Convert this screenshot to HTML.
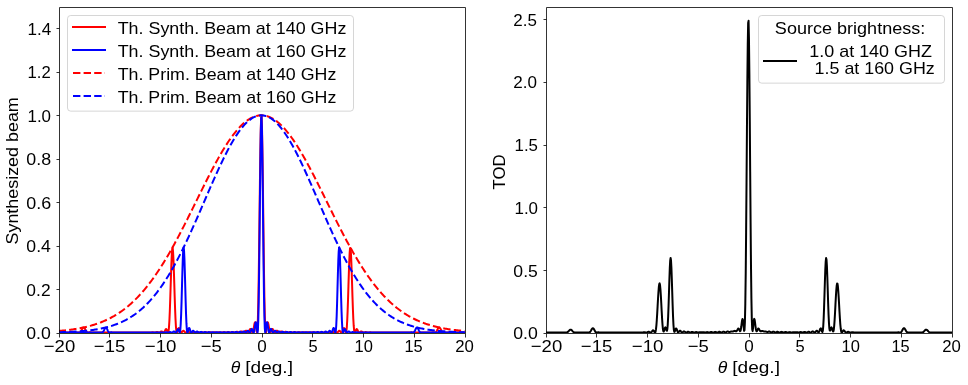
<!DOCTYPE html>
<html lang="en"><head><meta charset="utf-8"><title>Synthesized beam and TOD</title>
<style>
html,body{margin:0;padding:0;background:#fff;}
body{width:968px;height:385px;overflow:hidden;}
svg{display:block;will-change:transform;}
svg text{font-family:"Liberation Sans",sans-serif;fill:#000;}
</style></head><body>
<svg width="968" height="385" viewBox="0 0 968 385">
<rect width="968" height="385" fill="#fff"/>
<defs>
<clipPath id="c0"><rect x="59" y="7" width="406" height="326"/></clipPath>
<clipPath id="c1"><rect x="546" y="7" width="406" height="326"/></clipPath>
</defs>
<g clip-path="url(#c0)" fill="none" stroke-width="2" stroke-linejoin="round">
<path d="M58.56,332.59 L58.96,332.59 L59.37,332.59 L59.78,332.59 L60.18,332.60 L60.59,332.60 L60.99,332.60 L61.40,332.60 L61.81,332.60 L62.21,332.60 L62.62,332.59 L63.02,332.59 L63.43,332.59 L63.84,332.59 L64.24,332.59 L64.65,332.59 L65.05,332.60 L65.46,332.60 L65.87,332.60 L66.27,332.60 L66.68,332.59 L67.08,332.59 L67.49,332.58 L67.90,332.58 L68.30,332.58 L68.71,332.58 L69.11,332.59 L69.52,332.59 L69.93,332.60 L70.33,332.60 L70.74,332.59 L71.14,332.58 L71.55,332.57 L71.96,332.55 L72.36,332.55 L72.77,332.55 L73.17,332.55 L73.58,332.57 L73.99,332.59 L74.39,332.60 L74.80,332.60 L75.20,332.58 L75.61,332.55 L76.02,332.50 L76.42,332.46 L76.83,332.42 L77.23,332.41 L77.64,332.43 L78.05,332.48 L78.45,332.55 L78.86,332.59 L79.26,332.59 L79.67,332.49 L80.08,332.26 L80.48,331.88 L80.89,331.34 L81.29,330.67 L81.70,329.91 L82.11,329.14 L82.51,328.44 L82.92,327.88 L83.32,327.55 L83.73,327.49 L84.14,327.70 L84.54,328.16 L84.95,328.83 L85.35,329.60 L85.76,330.40 L86.17,331.15 L86.57,331.76 L86.98,332.21 L87.38,332.48 L87.79,332.59 L88.20,332.58 L88.60,332.50 L89.01,332.40 L89.41,332.32 L89.82,332.28 L90.23,332.30 L90.63,332.35 L91.04,332.43 L91.44,332.51 L91.85,332.57 L92.26,332.60 L92.66,332.59 L93.07,332.56 L93.47,332.52 L93.88,332.49 L94.29,332.46 L94.69,332.46 L95.10,332.49 L95.50,332.52 L95.91,332.56 L96.32,332.59 L96.72,332.60 L97.13,332.60 L97.53,332.58 L97.94,332.55 L98.35,332.53 L98.75,332.51 L99.16,332.51 L99.56,332.53 L99.97,332.55 L100.38,332.57 L100.78,332.59 L101.19,332.60 L101.59,332.60 L102.00,332.58 L102.41,332.56 L102.81,332.55 L103.22,332.53 L103.62,332.53 L104.03,332.54 L104.44,332.56 L104.84,332.58 L105.25,332.59 L105.65,332.60 L106.06,332.60 L106.47,332.59 L106.87,332.57 L107.28,332.55 L107.68,332.54 L108.09,332.54 L108.50,332.55 L108.90,332.57 L109.31,332.58 L109.71,332.59 L110.12,332.60 L110.53,332.60 L110.93,332.59 L111.34,332.57 L111.74,332.56 L112.15,332.55 L112.56,332.55 L112.96,332.55 L113.37,332.57 L113.77,332.58 L114.18,332.59 L114.59,332.60 L114.99,332.60 L115.40,332.59 L115.80,332.57 L116.21,332.56 L116.62,332.55 L117.02,332.55 L117.43,332.55 L117.83,332.57 L118.24,332.58 L118.65,332.60 L119.05,332.60 L119.46,332.60 L119.86,332.58 L120.27,332.57 L120.68,332.55 L121.08,332.55 L121.49,332.54 L121.89,332.55 L122.30,332.57 L122.71,332.58 L123.11,332.60 L123.52,332.60 L123.92,332.60 L124.33,332.58 L124.74,332.57 L125.14,332.55 L125.55,332.54 L125.95,332.54 L126.36,332.55 L126.77,332.56 L127.17,332.58 L127.58,332.60 L127.98,332.60 L128.39,332.59 L128.80,332.58 L129.20,332.56 L129.61,332.54 L130.01,332.53 L130.42,332.53 L130.83,332.54 L131.23,332.56 L131.64,332.58 L132.04,332.59 L132.45,332.60 L132.86,332.59 L133.26,332.57 L133.67,332.55 L134.07,332.53 L134.48,332.52 L134.89,332.52 L135.29,332.53 L135.70,332.55 L136.10,332.58 L136.51,332.59 L136.92,332.60 L137.32,332.59 L137.73,332.57 L138.13,332.54 L138.54,332.51 L138.95,332.49 L139.35,332.49 L139.76,332.51 L140.16,332.54 L140.57,332.57 L140.98,332.59 L141.38,332.60 L141.79,332.59 L142.19,332.56 L142.60,332.52 L143.01,332.48 L143.41,332.46 L143.82,332.46 L144.22,332.48 L144.63,332.52 L145.04,332.56 L145.44,332.59 L145.85,332.60 L146.25,332.58 L146.66,332.54 L147.07,332.48 L147.47,332.43 L147.88,332.40 L148.28,332.40 L148.69,332.43 L149.10,332.49 L149.50,332.55 L149.91,332.59 L150.31,332.60 L150.72,332.57 L151.13,332.50 L151.53,332.41 L151.94,332.34 L152.34,332.29 L152.75,332.29 L153.16,332.34 L153.56,332.43 L153.97,332.52 L154.37,332.58 L154.78,332.60 L155.19,332.54 L155.59,332.43 L156.00,332.28 L156.40,332.14 L156.81,332.06 L157.22,332.06 L157.62,332.15 L158.03,332.29 L158.43,332.46 L158.84,332.57 L159.25,332.59 L159.65,332.48 L160.06,332.25 L160.46,331.95 L160.87,331.67 L161.28,331.48 L161.68,331.46 L162.09,331.63 L162.49,331.94 L162.90,332.29 L163.31,332.55 L163.71,332.58 L164.12,332.28 L164.52,331.66 L164.93,330.81 L165.34,329.93 L165.74,329.26 L166.15,329.05 L166.55,329.42 L166.96,330.32 L167.37,331.48 L167.77,332.42 L168.18,332.46 L168.58,330.89 L168.99,327.07 L169.40,320.60 L169.80,311.46 L170.21,300.08 L170.61,287.33 L171.02,274.41 L171.43,262.76 L171.83,253.74 L172.24,248.50 L172.64,247.72 L173.05,251.52 L173.46,259.44 L173.86,270.50 L174.27,283.35 L174.67,296.54 L175.08,308.69 L175.49,318.73 L175.89,326.05 L176.30,330.51 L176.70,332.42 L177.11,332.40 L177.52,331.25 L177.92,329.76 L178.33,328.54 L178.73,327.97 L179.14,328.16 L179.55,328.97 L179.95,330.11 L180.36,331.26 L180.76,332.13 L181.17,332.56 L181.58,332.53 L181.98,332.15 L182.39,331.61 L182.79,331.10 L183.20,330.81 L183.61,330.80 L184.01,331.07 L184.42,331.51 L184.82,332.00 L185.23,332.39 L185.64,332.58 L186.04,332.56 L186.45,332.35 L186.85,332.05 L187.26,331.76 L187.67,331.58 L188.07,331.56 L188.48,331.70 L188.88,331.95 L189.29,332.24 L189.70,332.47 L190.10,332.59 L190.51,332.57 L190.91,332.43 L191.32,332.22 L191.73,332.02 L192.13,331.89 L192.54,331.87 L192.94,331.97 L193.35,332.15 L193.76,332.35 L194.16,332.51 L194.57,332.60 L194.97,332.57 L195.38,332.46 L195.79,332.30 L196.19,332.15 L196.60,332.05 L197.00,332.03 L197.41,332.11 L197.82,332.25 L198.22,332.41 L198.63,332.54 L199.03,332.60 L199.44,332.58 L199.85,332.48 L200.25,332.34 L200.66,332.21 L201.06,332.13 L201.47,332.12 L201.88,332.18 L202.28,332.30 L202.69,332.44 L203.09,332.55 L203.50,332.60 L203.91,332.58 L204.31,332.49 L204.72,332.37 L205.12,332.25 L205.53,332.17 L205.94,332.16 L206.34,332.22 L206.75,332.33 L207.15,332.46 L207.56,332.55 L207.97,332.60 L208.37,332.58 L208.78,332.49 L209.18,332.37 L209.59,332.26 L210.00,332.19 L210.40,332.18 L210.81,332.24 L211.21,332.35 L211.62,332.46 L212.03,332.56 L212.43,332.60 L212.84,332.57 L213.24,332.49 L213.65,332.37 L214.06,332.26 L214.46,332.19 L214.87,332.18 L215.27,332.24 L215.68,332.35 L216.09,332.47 L216.49,332.56 L216.90,332.60 L217.30,332.57 L217.71,332.48 L218.12,332.36 L218.52,332.24 L218.93,332.17 L219.33,332.16 L219.74,332.23 L220.15,332.34 L220.55,332.46 L220.96,332.56 L221.36,332.60 L221.77,332.56 L222.18,332.46 L222.58,332.33 L222.99,332.20 L223.39,332.13 L223.80,332.12 L224.21,332.19 L224.61,332.32 L225.02,332.46 L225.42,332.56 L225.83,332.60 L226.24,332.56 L226.64,332.44 L227.05,332.29 L227.45,332.14 L227.86,332.05 L228.27,332.05 L228.67,332.13 L229.08,332.28 L229.48,332.44 L229.89,332.56 L230.30,332.60 L230.70,332.54 L231.11,332.40 L231.51,332.22 L231.92,332.04 L232.33,331.94 L232.73,331.94 L233.14,332.04 L233.54,332.21 L233.95,332.41 L234.36,332.55 L234.76,332.60 L235.17,332.52 L235.57,332.34 L235.98,332.10 L236.39,331.88 L236.79,331.74 L237.20,331.74 L237.60,331.87 L238.01,332.10 L238.42,332.36 L238.82,332.54 L239.23,332.60 L239.63,332.49 L240.04,332.23 L240.45,331.89 L240.85,331.58 L241.26,331.39 L241.66,331.39 L242.07,331.58 L242.48,331.90 L242.88,332.26 L243.29,332.53 L243.69,332.59 L244.10,332.41 L244.51,332.01 L244.91,331.50 L245.32,331.01 L245.72,330.70 L246.13,330.68 L246.54,330.97 L246.94,331.49 L247.35,332.06 L247.75,332.49 L248.16,332.59 L248.57,332.25 L248.97,331.52 L249.38,330.56 L249.78,329.63 L250.19,329.01 L250.60,328.93 L251.00,329.43 L251.41,330.41 L251.81,331.54 L252.22,332.39 L252.63,332.56 L253.03,331.75 L253.44,329.96 L253.84,327.48 L254.25,324.89 L254.66,322.91 L255.06,322.23 L255.47,323.22 L255.87,325.76 L256.28,329.12 L256.69,331.92 L257.09,332.36 L257.50,328.50 L257.90,318.66 L258.31,301.83 L258.72,278.05 L259.12,248.49 L259.53,215.54 L259.93,182.42 L260.34,152.80 L260.75,130.22 L261.15,117.50 L261.56,116.26 L261.96,126.66 L262.37,147.37 L262.78,175.78 L263.18,208.48 L263.59,241.76 L263.99,272.25 L264.40,297.39 L264.81,315.72 L265.21,326.98 L265.62,331.97 L266.02,332.28 L266.43,329.81 L266.84,326.44 L267.24,323.64 L267.65,322.29 L268.05,322.64 L268.46,324.40 L268.87,326.92 L269.27,329.48 L269.68,331.45 L270.08,332.47 L270.49,332.50 L270.90,331.75 L271.30,330.64 L271.71,329.61 L272.11,328.98 L272.52,328.95 L272.93,329.47 L273.33,330.36 L273.74,331.33 L274.14,332.13 L274.55,332.55 L274.96,332.54 L275.36,332.17 L275.77,331.61 L276.17,331.07 L276.58,330.72 L276.99,330.67 L277.39,330.92 L277.80,331.39 L278.20,331.91 L278.61,332.35 L279.02,332.58 L279.42,332.56 L279.83,332.33 L280.23,331.98 L280.64,331.64 L281.05,331.41 L281.45,331.38 L281.86,331.53 L282.26,331.82 L282.67,332.16 L283.08,332.44 L283.48,332.59 L283.89,332.57 L284.29,332.40 L284.70,332.16 L285.11,331.92 L285.51,331.76 L285.92,331.73 L286.32,331.84 L286.73,332.05 L287.14,332.29 L287.54,332.49 L287.95,332.59 L288.35,332.57 L288.76,332.44 L289.17,332.26 L289.57,332.07 L289.98,331.95 L290.38,331.93 L290.79,332.01 L291.20,332.18 L291.60,332.36 L292.01,332.52 L292.41,332.60 L292.82,332.58 L293.23,332.47 L293.63,332.31 L294.04,332.16 L294.44,332.06 L294.85,332.05 L295.26,332.12 L295.66,332.25 L296.07,332.41 L296.47,332.54 L296.88,332.60 L297.29,332.58 L297.69,332.48 L298.10,332.35 L298.50,332.22 L298.91,332.13 L299.32,332.12 L299.72,332.18 L300.13,332.30 L300.53,332.44 L300.94,332.55 L301.35,332.60 L301.75,332.58 L302.16,332.49 L302.56,332.37 L302.97,332.25 L303.38,332.17 L303.78,332.16 L304.19,332.22 L304.59,332.33 L305.00,332.45 L305.41,332.55 L305.81,332.60 L306.22,332.58 L306.62,332.49 L307.03,332.37 L307.44,332.26 L307.84,332.19 L308.25,332.18 L308.65,332.24 L309.06,332.35 L309.47,332.46 L309.87,332.56 L310.28,332.60 L310.68,332.57 L311.09,332.49 L311.50,332.37 L311.90,332.26 L312.31,332.19 L312.71,332.18 L313.12,332.24 L313.53,332.35 L313.93,332.47 L314.34,332.56 L314.74,332.60 L315.15,332.57 L315.56,332.48 L315.96,332.36 L316.37,332.24 L316.77,332.17 L317.18,332.17 L317.59,332.23 L317.99,332.34 L318.40,332.46 L318.80,332.56 L319.21,332.60 L319.62,332.56 L320.02,332.46 L320.43,332.33 L320.83,332.20 L321.24,332.12 L321.65,332.12 L322.05,332.19 L322.46,332.32 L322.86,332.45 L323.27,332.56 L323.68,332.60 L324.08,332.55 L324.49,332.44 L324.89,332.28 L325.30,332.13 L325.71,332.04 L326.11,332.03 L326.52,332.12 L326.92,332.27 L327.33,332.43 L327.74,332.56 L328.14,332.60 L328.55,332.54 L328.95,332.39 L329.36,332.19 L329.77,332.00 L330.17,331.88 L330.58,331.88 L330.98,331.98 L331.39,332.17 L331.80,332.39 L332.20,332.55 L332.61,332.60 L333.01,332.51 L333.42,332.30 L333.83,332.02 L334.23,331.75 L334.64,331.57 L335.04,331.56 L335.45,331.71 L335.86,331.98 L336.26,332.29 L336.67,332.53 L337.07,332.60 L337.48,332.45 L337.89,332.09 L338.29,331.62 L338.70,331.15 L339.10,330.84 L339.51,330.78 L339.92,331.02 L340.32,331.49 L340.73,332.04 L341.13,332.47 L341.54,332.59 L341.95,332.26 L342.35,331.47 L342.76,330.36 L343.16,329.19 L343.57,328.29 L343.98,327.95 L344.38,328.36 L344.79,329.46 L345.19,330.94 L345.60,332.22 L346.01,332.55 L346.41,331.11 L346.82,327.22 L347.22,320.51 L347.63,311.00 L348.04,299.22 L348.44,286.15 L348.85,273.10 L349.25,261.55 L349.66,252.87 L350.07,248.14 L350.47,247.95 L350.88,252.30 L351.28,260.60 L351.69,271.81 L352.10,284.58 L352.50,297.48 L352.91,309.24 L353.31,318.89 L353.72,325.94 L354.13,330.29 L354.53,332.29 L354.94,332.53 L355.34,331.72 L355.75,330.55 L356.16,329.57 L356.56,329.08 L356.97,329.17 L357.37,329.76 L357.78,330.62 L358.19,331.49 L358.59,332.17 L359.00,332.54 L359.40,332.58 L359.81,332.36 L360.22,332.01 L360.62,331.68 L361.03,331.48 L361.43,331.46 L361.84,331.62 L362.25,331.89 L362.65,332.19 L363.06,332.44 L363.46,332.58 L363.87,332.59 L364.28,332.49 L364.68,332.33 L365.09,332.17 L365.49,332.07 L365.90,332.05 L366.31,332.12 L366.71,332.25 L367.12,332.40 L367.52,332.52 L367.93,332.59 L368.34,332.59 L368.74,332.54 L369.15,332.45 L369.55,332.36 L369.96,332.30 L370.37,332.28 L370.77,332.32 L371.18,332.40 L371.58,332.48 L371.99,332.56 L372.40,332.60 L372.80,332.59 L373.21,332.56 L373.61,332.50 L374.02,332.44 L374.43,332.40 L374.83,332.40 L375.24,332.42 L375.64,332.47 L376.05,332.52 L376.46,332.57 L376.86,332.60 L377.27,332.60 L377.67,332.57 L378.08,332.53 L378.49,332.49 L378.89,332.46 L379.30,332.46 L379.70,332.47 L380.11,332.51 L380.52,332.55 L380.92,332.58 L381.33,332.60 L381.73,332.60 L382.14,332.58 L382.55,332.55 L382.95,332.52 L383.36,332.50 L383.76,332.49 L384.17,332.51 L384.58,332.53 L384.98,332.56 L385.39,332.59 L385.79,332.60 L386.20,332.60 L386.61,332.58 L387.01,332.56 L387.42,332.53 L387.82,332.52 L388.23,332.51 L388.64,332.53 L389.04,332.55 L389.45,332.57 L389.85,332.59 L390.26,332.60 L390.67,332.60 L391.07,332.58 L391.48,332.56 L391.88,332.54 L392.29,332.53 L392.70,332.53 L393.10,332.54 L393.51,332.56 L393.91,332.58 L394.32,332.59 L394.73,332.60 L395.13,332.60 L395.54,332.58 L395.94,332.57 L396.35,332.55 L396.76,332.54 L397.16,332.54 L397.57,332.55 L397.97,332.56 L398.38,332.58 L398.79,332.59 L399.19,332.60 L399.60,332.60 L400.00,332.59 L400.41,332.57 L400.82,332.56 L401.22,332.55 L401.63,332.54 L402.03,332.55 L402.44,332.57 L402.85,332.58 L403.25,332.59 L403.66,332.60 L404.06,332.60 L404.47,332.59 L404.88,332.57 L405.28,332.56 L405.69,332.55 L406.09,332.55 L406.50,332.55 L406.91,332.57 L407.31,332.58 L407.72,332.59 L408.12,332.60 L408.53,332.60 L408.94,332.59 L409.34,332.57 L409.75,332.56 L410.15,332.55 L410.56,332.55 L410.97,332.55 L411.37,332.57 L411.78,332.58 L412.18,332.60 L412.59,332.60 L413.00,332.60 L413.40,332.58 L413.81,332.57 L414.21,332.55 L414.62,332.54 L415.03,332.54 L415.43,332.55 L415.84,332.57 L416.24,332.58 L416.65,332.59 L417.06,332.60 L417.46,332.60 L417.87,332.58 L418.27,332.56 L418.68,332.55 L419.09,332.53 L419.49,332.53 L419.90,332.54 L420.30,332.56 L420.71,332.58 L421.12,332.59 L421.52,332.60 L421.93,332.59 L422.33,332.58 L422.74,332.55 L423.15,332.53 L423.55,332.51 L423.96,332.51 L424.36,332.52 L424.77,332.55 L425.18,332.57 L425.58,332.59 L425.99,332.60 L426.39,332.59 L426.80,332.56 L427.21,332.53 L427.61,332.49 L428.02,332.47 L428.42,332.46 L428.83,332.48 L429.24,332.51 L429.64,332.56 L430.05,332.59 L430.45,332.60 L430.86,332.58 L431.27,332.53 L431.67,332.45 L432.08,332.37 L432.48,332.31 L432.89,332.28 L433.30,332.31 L433.70,332.38 L434.11,332.48 L434.51,332.57 L434.92,332.60 L435.33,332.52 L435.73,332.28 L436.14,331.87 L436.54,331.29 L436.95,330.57 L437.36,329.77 L437.76,328.98 L438.17,328.29 L438.57,327.78 L438.98,327.51 L439.39,327.52 L439.79,327.79 L440.20,328.30 L440.60,328.98 L441.01,329.75 L441.42,330.52 L441.82,331.21 L442.23,331.78 L442.63,332.20 L443.04,332.46 L443.45,332.58 L443.85,332.60 L444.26,332.56 L444.66,332.50 L445.07,332.44 L445.48,332.42 L445.88,332.42 L446.29,332.45 L446.69,332.49 L447.10,332.54 L447.51,332.58 L447.91,332.60 L448.32,332.60 L448.72,332.59 L449.13,332.57 L449.54,332.56 L449.94,332.55 L450.35,332.55 L450.75,332.55 L451.16,332.57 L451.57,332.58 L451.97,332.59 L452.38,332.60 L452.78,332.60 L453.19,332.60 L453.60,332.59 L454.00,332.58 L454.41,332.58 L454.81,332.58 L455.22,332.58 L455.63,332.58 L456.03,332.59 L456.44,332.60 L456.84,332.60 L457.25,332.60 L457.66,332.60 L458.06,332.59 L458.47,332.59 L458.87,332.59 L459.28,332.59 L459.69,332.59 L460.09,332.59 L460.50,332.60 L460.90,332.60 L461.31,332.60 L461.72,332.60 L462.12,332.60 L462.53,332.60 L462.93,332.59 L463.34,332.59 L463.75,332.59 L464.15,332.59 L464.56,332.60" stroke="#f00" stroke-linecap="square"/>
<path d="M58.56,332.60 L58.96,332.60 L59.37,332.60 L59.78,332.60 L60.18,332.60 L60.59,332.60 L60.99,332.60 L61.40,332.60 L61.81,332.60 L62.21,332.60 L62.62,332.60 L63.02,332.60 L63.43,332.60 L63.84,332.60 L64.24,332.60 L64.65,332.60 L65.05,332.60 L65.46,332.60 L65.87,332.60 L66.27,332.60 L66.68,332.60 L67.08,332.60 L67.49,332.60 L67.90,332.60 L68.30,332.60 L68.71,332.60 L69.11,332.60 L69.52,332.60 L69.93,332.60 L70.33,332.60 L70.74,332.60 L71.14,332.60 L71.55,332.60 L71.96,332.60 L72.36,332.60 L72.77,332.60 L73.17,332.60 L73.58,332.60 L73.99,332.60 L74.39,332.60 L74.80,332.60 L75.20,332.60 L75.61,332.60 L76.02,332.60 L76.42,332.60 L76.83,332.60 L77.23,332.60 L77.64,332.60 L78.05,332.60 L78.45,332.60 L78.86,332.60 L79.26,332.60 L79.67,332.60 L80.08,332.60 L80.48,332.60 L80.89,332.60 L81.29,332.60 L81.70,332.60 L82.11,332.60 L82.51,332.60 L82.92,332.60 L83.32,332.60 L83.73,332.59 L84.14,332.59 L84.54,332.59 L84.95,332.59 L85.35,332.60 L85.76,332.60 L86.17,332.60 L86.57,332.60 L86.98,332.60 L87.38,332.59 L87.79,332.59 L88.20,332.59 L88.60,332.59 L89.01,332.59 L89.41,332.60 L89.82,332.60 L90.23,332.60 L90.63,332.60 L91.04,332.59 L91.44,332.58 L91.85,332.58 L92.26,332.58 L92.66,332.58 L93.07,332.59 L93.47,332.59 L93.88,332.60 L94.29,332.60 L94.69,332.59 L95.10,332.58 L95.50,332.56 L95.91,332.55 L96.32,332.55 L96.72,332.55 L97.13,332.57 L97.53,332.59 L97.94,332.60 L98.35,332.59 L98.75,332.56 L99.16,332.51 L99.56,332.46 L99.97,332.42 L100.38,332.42 L100.78,332.46 L101.19,332.52 L101.59,332.59 L102.00,332.59 L102.41,332.48 L102.81,332.20 L103.22,331.72 L103.62,331.03 L104.03,330.20 L104.44,329.31 L104.84,328.49 L105.25,327.86 L105.65,327.52 L106.06,327.53 L106.47,327.90 L106.87,328.56 L107.28,329.42 L107.68,330.34 L108.09,331.18 L108.50,331.87 L108.90,332.32 L109.31,332.55 L109.71,332.60 L110.12,332.52 L110.53,332.41 L110.93,332.31 L111.34,332.28 L111.74,332.31 L112.15,332.39 L112.56,332.48 L112.96,332.56 L113.37,332.60 L113.77,332.59 L114.18,332.56 L114.59,332.51 L114.99,332.47 L115.40,332.46 L115.80,332.48 L116.21,332.52 L116.62,332.56 L117.02,332.59 L117.43,332.60 L117.83,332.59 L118.24,332.56 L118.65,332.53 L119.05,332.52 L119.46,332.51 L119.86,332.53 L120.27,332.56 L120.68,332.58 L121.08,332.60 L121.49,332.60 L121.89,332.58 L122.30,332.56 L122.71,332.54 L123.11,332.53 L123.52,332.54 L123.92,332.55 L124.33,332.57 L124.74,332.59 L125.14,332.60 L125.55,332.60 L125.95,332.58 L126.36,332.56 L126.77,332.55 L127.17,332.54 L127.58,332.55 L127.98,332.57 L128.39,332.58 L128.80,332.60 L129.20,332.60 L129.61,332.59 L130.01,332.57 L130.42,332.56 L130.83,332.55 L131.23,332.55 L131.64,332.56 L132.04,332.58 L132.45,332.59 L132.86,332.60 L133.26,332.60 L133.67,332.58 L134.07,332.57 L134.48,332.55 L134.89,332.55 L135.29,332.55 L135.70,332.56 L136.10,332.58 L136.51,332.60 L136.92,332.60 L137.32,332.59 L137.73,332.58 L138.13,332.56 L138.54,332.55 L138.95,332.54 L139.35,332.55 L139.76,332.57 L140.16,332.59 L140.57,332.60 L140.98,332.60 L141.38,332.59 L141.79,332.57 L142.19,332.55 L142.60,332.54 L143.01,332.54 L143.41,332.56 L143.82,332.58 L144.22,332.59 L144.63,332.60 L145.04,332.59 L145.44,332.58 L145.85,332.55 L146.25,332.54 L146.66,332.53 L147.07,332.54 L147.47,332.56 L147.88,332.58 L148.28,332.60 L148.69,332.60 L149.10,332.59 L149.50,332.56 L149.91,332.53 L150.31,332.52 L150.72,332.52 L151.13,332.53 L151.53,332.56 L151.94,332.59 L152.34,332.60 L152.75,332.59 L153.16,332.57 L153.56,332.54 L153.97,332.51 L154.37,332.49 L154.78,332.50 L155.19,332.53 L155.59,332.56 L156.00,332.59 L156.40,332.60 L156.81,332.58 L157.22,332.54 L157.62,332.50 L158.03,332.46 L158.43,332.46 L158.84,332.48 L159.25,332.52 L159.65,332.57 L160.06,332.60 L160.46,332.59 L160.87,332.55 L161.28,332.49 L161.68,332.43 L162.09,332.40 L162.49,332.40 L162.90,332.45 L163.31,332.52 L163.71,332.58 L164.12,332.60 L164.52,332.57 L164.93,332.50 L165.34,332.40 L165.74,332.32 L166.15,332.28 L166.55,332.32 L166.96,332.40 L167.37,332.51 L167.77,332.59 L168.18,332.59 L168.58,332.51 L168.99,332.36 L169.40,332.19 L169.80,332.07 L170.21,332.06 L170.61,332.15 L171.02,332.33 L171.43,332.51 L171.83,332.60 L172.24,332.54 L172.64,332.31 L173.05,331.98 L173.46,331.65 L173.86,331.46 L174.27,331.50 L174.67,331.76 L175.08,332.16 L175.49,332.51 L175.89,332.59 L176.30,332.25 L176.70,331.50 L177.11,330.50 L177.52,329.56 L177.92,329.07 L178.33,329.28 L178.73,330.22 L179.14,331.55 L179.55,332.52 L179.95,332.14 L180.36,329.35 L180.76,323.33 L181.17,313.78 L181.58,301.14 L181.98,286.59 L182.39,271.95 L182.79,259.31 L183.20,250.67 L183.61,247.47 L184.01,250.26 L184.42,258.62 L184.82,271.19 L185.23,286.00 L185.64,300.87 L186.04,313.87 L186.45,323.67 L186.85,329.73 L187.26,332.34 L187.67,332.36 L188.07,330.96 L188.48,329.29 L188.88,328.17 L189.29,328.01 L189.70,328.74 L190.10,330.01 L190.51,331.32 L190.91,332.25 L191.32,332.60 L191.73,332.38 L192.13,331.81 L192.54,331.21 L192.94,330.82 L193.35,330.81 L193.76,331.15 L194.16,331.68 L194.57,332.21 L194.97,332.54 L195.38,332.58 L195.79,332.37 L196.19,332.03 L196.60,331.71 L197.00,331.55 L197.41,331.61 L197.82,331.85 L198.22,332.18 L198.63,332.46 L199.03,332.59 L199.44,332.55 L199.85,332.36 L200.25,332.12 L200.66,331.93 L201.06,331.87 L201.47,331.96 L201.88,332.16 L202.28,332.39 L202.69,332.55 L203.09,332.60 L203.50,332.51 L203.91,332.34 L204.31,332.16 L204.72,332.04 L205.12,332.04 L205.53,332.15 L205.94,332.32 L206.34,332.49 L206.75,332.59 L207.15,332.58 L207.56,332.47 L207.97,332.32 L208.37,332.18 L208.78,332.11 L209.18,332.15 L209.59,332.27 L210.00,332.43 L210.40,332.55 L210.81,332.60 L211.21,332.55 L211.62,332.43 L212.03,332.29 L212.43,332.19 L212.84,332.16 L213.24,332.23 L213.65,332.36 L214.06,332.49 L214.46,332.58 L214.87,332.59 L215.27,332.51 L215.68,332.38 L216.09,332.26 L216.49,332.18 L216.90,332.20 L217.30,332.29 L217.71,332.42 L218.12,332.54 L218.52,332.60 L218.93,332.57 L219.33,332.47 L219.74,332.33 L220.15,332.22 L220.55,332.18 L220.96,332.22 L221.36,332.34 L221.77,332.47 L222.18,332.57 L222.58,332.60 L222.99,332.53 L223.39,332.40 L223.80,332.27 L224.21,332.17 L224.61,332.17 L225.02,332.25 L225.42,332.38 L225.83,332.52 L226.24,332.59 L226.64,332.58 L227.05,332.47 L227.45,332.32 L227.86,332.18 L228.27,332.12 L228.67,332.15 L229.08,332.27 L229.48,332.43 L229.89,332.55 L230.30,332.60 L230.70,332.54 L231.11,332.39 L231.51,332.21 L231.92,332.08 L232.33,332.04 L232.73,332.12 L233.14,332.29 L233.54,332.47 L233.95,332.58 L234.36,332.58 L234.76,332.46 L235.17,332.26 L235.57,332.06 L235.98,331.93 L236.39,331.95 L236.79,332.09 L237.20,332.31 L237.60,332.51 L238.01,332.60 L238.42,332.53 L238.82,332.32 L239.23,332.05 L239.63,331.82 L240.04,331.72 L240.45,331.81 L240.85,332.05 L241.26,332.34 L241.66,332.55 L242.07,332.59 L242.48,332.41 L242.88,332.07 L243.29,331.69 L243.69,331.42 L244.10,331.38 L244.51,331.59 L244.91,331.98 L245.32,332.37 L245.72,332.59 L246.13,332.51 L246.54,332.12 L246.94,331.54 L247.35,330.98 L247.75,330.67 L248.16,330.75 L248.57,331.20 L248.97,331.86 L249.38,332.42 L249.78,332.59 L250.19,332.22 L250.60,331.34 L251.00,330.23 L251.41,329.28 L251.81,328.89 L252.22,329.27 L252.63,330.31 L253.03,331.60 L253.44,332.49 L253.84,332.40 L254.25,331.00 L254.66,328.45 L255.06,325.46 L255.47,323.04 L255.87,322.24 L256.28,323.61 L256.69,326.88 L257.09,330.65 L257.50,332.60 L257.90,329.86 L258.31,319.78 L258.72,300.67 L259.12,272.56 L259.53,237.45 L259.93,199.27 L260.34,163.18 L260.75,134.62 L261.15,118.16 L261.56,116.54 L261.96,130.03 L262.37,156.38 L262.78,191.33 L263.18,229.53 L263.59,265.66 L263.99,295.48 L264.40,316.54 L264.81,328.43 L265.21,332.51 L265.62,331.30 L266.02,327.69 L266.43,324.17 L266.84,322.34 L267.24,322.71 L267.65,324.86 L268.05,327.83 L268.46,330.54 L268.87,332.21 L269.27,332.57 L269.68,331.84 L270.08,330.58 L270.49,329.44 L270.90,328.90 L271.30,329.14 L271.71,330.00 L272.11,331.12 L272.52,332.07 L272.93,332.56 L273.33,332.49 L273.74,331.99 L274.14,331.33 L274.55,330.82 L274.96,330.66 L275.36,330.89 L275.77,331.42 L276.17,332.01 L276.58,332.45 L276.99,332.60 L277.39,332.43 L277.80,332.06 L278.20,331.66 L278.61,331.41 L279.02,331.39 L279.42,331.62 L279.83,331.99 L280.23,332.35 L280.64,332.57 L281.05,332.58 L281.45,332.39 L281.86,332.11 L282.26,331.85 L282.67,331.73 L283.08,331.78 L283.48,331.99 L283.89,332.27 L284.29,332.50 L284.70,332.60 L285.11,332.54 L285.51,332.36 L285.92,332.13 L286.32,331.97 L286.73,331.93 L287.14,332.02 L287.54,332.21 L287.95,332.42 L288.35,332.57 L288.76,332.59 L289.17,332.50 L289.57,332.33 L289.98,332.15 L290.38,332.05 L290.79,332.06 L291.20,332.18 L291.60,332.35 L292.01,332.51 L292.41,332.60 L292.82,332.57 L293.23,332.46 L293.63,332.30 L294.04,332.17 L294.44,332.11 L294.85,332.16 L295.26,332.29 L295.66,332.44 L296.07,332.56 L296.47,332.60 L296.88,332.54 L297.29,332.41 L297.69,332.27 L298.10,332.18 L298.50,332.16 L298.91,332.24 L299.32,332.37 L299.72,332.51 L300.13,332.59 L300.53,332.59 L300.94,332.50 L301.35,332.37 L301.75,332.24 L302.16,332.18 L302.56,332.20 L302.97,332.30 L303.38,332.44 L303.78,332.55 L304.19,332.60 L304.59,332.56 L305.00,332.45 L305.41,332.31 L305.81,332.21 L306.22,332.18 L306.62,332.24 L307.03,332.36 L307.44,332.49 L307.84,332.58 L308.25,332.59 L308.65,332.52 L309.06,332.39 L309.47,332.25 L309.87,332.17 L310.28,332.17 L310.68,332.26 L311.09,332.40 L311.50,332.53 L311.90,332.60 L312.31,332.57 L312.71,332.46 L313.12,332.30 L313.53,332.17 L313.93,332.11 L314.34,332.16 L314.74,332.28 L315.15,332.44 L315.56,332.57 L315.96,332.60 L316.37,332.52 L316.77,332.36 L317.18,332.18 L317.59,332.05 L317.99,332.03 L318.40,332.13 L318.80,332.30 L319.21,332.48 L319.62,332.59 L320.02,332.57 L320.43,332.43 L320.83,332.21 L321.24,331.99 L321.65,331.87 L322.05,331.90 L322.46,332.07 L322.86,332.31 L323.27,332.52 L323.68,332.60 L324.08,332.50 L324.49,332.24 L324.89,331.92 L325.30,331.65 L325.71,331.54 L326.11,331.66 L326.52,331.95 L326.92,332.31 L327.33,332.56 L327.74,332.57 L328.14,332.30 L328.55,331.80 L328.95,331.25 L329.36,330.86 L329.77,330.79 L330.17,331.10 L330.58,331.68 L330.98,332.28 L331.39,332.59 L331.80,332.38 L332.20,331.55 L332.61,330.29 L333.01,328.98 L333.42,328.09 L333.83,328.05 L334.23,328.99 L334.64,330.60 L335.04,332.14 L335.45,332.52 L335.86,330.54 L336.26,325.25 L336.67,316.22 L337.07,303.81 L337.48,289.19 L337.89,274.19 L338.29,260.97 L338.70,251.59 L339.10,247.55 L339.51,249.52 L339.92,257.11 L340.32,269.05 L340.73,283.45 L341.13,298.19 L341.54,311.35 L341.95,321.61 L342.35,328.37 L342.76,331.79 L343.16,332.59 L343.57,331.81 L343.98,330.49 L344.38,329.42 L344.79,329.05 L345.19,329.41 L345.60,330.28 L346.01,331.30 L346.41,332.13 L346.82,332.55 L347.22,332.55 L347.63,332.25 L348.04,331.84 L348.44,331.54 L348.85,331.45 L349.25,331.60 L349.66,331.91 L350.07,332.25 L350.47,332.50 L350.88,332.60 L351.28,332.54 L351.69,332.37 L352.10,332.18 L352.50,332.07 L352.91,332.06 L353.31,332.16 L353.72,332.32 L354.13,332.48 L354.53,332.58 L354.94,332.59 L355.34,332.53 L355.75,332.43 L356.16,332.33 L356.56,332.28 L356.97,332.30 L357.37,332.38 L357.78,332.48 L358.19,332.56 L358.59,332.60 L359.00,332.59 L359.40,332.53 L359.81,332.46 L360.22,332.41 L360.62,332.40 L361.03,332.42 L361.43,332.48 L361.84,332.54 L362.25,332.59 L362.65,332.60 L363.06,332.58 L363.46,332.53 L363.87,332.49 L364.28,332.46 L364.68,332.46 L365.09,332.49 L365.49,332.53 L365.90,332.57 L366.31,332.60 L366.71,332.60 L367.12,332.57 L367.52,332.54 L367.93,332.50 L368.34,332.49 L368.74,332.50 L369.15,332.53 L369.55,332.56 L369.96,332.59 L370.37,332.60 L370.77,332.59 L371.18,332.57 L371.58,332.54 L371.99,332.52 L372.40,332.52 L372.80,332.53 L373.21,332.55 L373.61,332.58 L374.02,332.60 L374.43,332.60 L374.83,332.58 L375.24,332.56 L375.64,332.54 L376.05,332.53 L376.46,332.53 L376.86,332.55 L377.27,332.57 L377.67,332.59 L378.08,332.60 L378.49,332.60 L378.89,332.58 L379.30,332.56 L379.70,332.54 L380.11,332.54 L380.52,332.55 L380.92,332.56 L381.33,332.58 L381.73,332.60 L382.14,332.60 L382.55,332.59 L382.95,332.57 L383.36,332.56 L383.76,332.55 L384.17,332.55 L384.58,332.56 L384.98,332.57 L385.39,332.59 L385.79,332.60 L386.20,332.60 L386.61,332.59 L387.01,332.57 L387.42,332.55 L387.82,332.55 L388.23,332.55 L388.64,332.56 L389.04,332.58 L389.45,332.60 L389.85,332.60 L390.26,332.59 L390.67,332.58 L391.07,332.56 L391.48,332.55 L391.88,332.55 L392.29,332.55 L392.70,332.57 L393.10,332.59 L393.51,332.60 L393.91,332.60 L394.32,332.59 L394.73,332.57 L395.13,332.55 L395.54,332.54 L395.94,332.54 L396.35,332.56 L396.76,332.58 L397.16,332.59 L397.57,332.60 L397.97,332.59 L398.38,332.58 L398.79,332.56 L399.19,332.54 L399.60,332.53 L400.00,332.54 L400.41,332.56 L400.82,332.58 L401.22,332.60 L401.63,332.60 L402.03,332.59 L402.44,332.56 L402.85,332.53 L403.25,332.52 L403.66,332.51 L404.06,332.53 L404.47,332.56 L404.88,332.58 L405.28,332.60 L405.69,332.59 L406.09,332.57 L406.50,332.53 L406.91,332.49 L407.31,332.46 L407.72,332.47 L408.12,332.50 L408.53,332.55 L408.94,332.59 L409.34,332.60 L409.75,332.57 L410.15,332.50 L410.56,332.41 L410.97,332.33 L411.37,332.28 L411.78,332.30 L412.18,332.38 L412.59,332.50 L413.00,332.59 L413.40,332.58 L413.81,332.39 L414.21,331.98 L414.62,331.34 L415.03,330.52 L415.43,329.61 L415.84,328.73 L416.24,328.01 L416.65,327.58 L417.06,327.49 L417.46,327.76 L417.87,328.34 L418.27,329.13 L418.68,330.02 L419.09,330.87 L419.49,331.59 L419.90,332.12 L420.30,332.44 L420.71,332.58 L421.12,332.59 L421.52,332.54 L421.93,332.47 L422.33,332.42 L422.74,332.42 L423.15,332.45 L423.55,332.50 L423.96,332.55 L424.36,332.58 L424.77,332.60 L425.18,332.59 L425.58,332.58 L425.99,332.56 L426.39,332.55 L426.80,332.55 L427.21,332.56 L427.61,332.57 L428.02,332.59 L428.42,332.60 L428.83,332.60 L429.24,332.60 L429.64,332.59 L430.05,332.58 L430.45,332.58 L430.86,332.58 L431.27,332.58 L431.67,332.59 L432.08,332.60 L432.48,332.60 L432.89,332.60 L433.30,332.60 L433.70,332.59 L434.11,332.59 L434.51,332.59 L434.92,332.59 L435.33,332.59 L435.73,332.60 L436.14,332.60 L436.54,332.60 L436.95,332.60 L437.36,332.60 L437.76,332.59 L438.17,332.59 L438.57,332.59 L438.98,332.59 L439.39,332.60 L439.79,332.60 L440.20,332.60 L440.60,332.60 L441.01,332.60 L441.42,332.60 L441.82,332.60 L442.23,332.60 L442.63,332.60 L443.04,332.60 L443.45,332.60 L443.85,332.60 L444.26,332.60 L444.66,332.60 L445.07,332.60 L445.48,332.60 L445.88,332.60 L446.29,332.60 L446.69,332.60 L447.10,332.60 L447.51,332.60 L447.91,332.60 L448.32,332.60 L448.72,332.60 L449.13,332.60 L449.54,332.60 L449.94,332.60 L450.35,332.60 L450.75,332.60 L451.16,332.60 L451.57,332.60 L451.97,332.60 L452.38,332.60 L452.78,332.60 L453.19,332.60 L453.60,332.60 L454.00,332.60 L454.41,332.60 L454.81,332.60 L455.22,332.60 L455.63,332.60 L456.03,332.60 L456.44,332.60 L456.84,332.60 L457.25,332.60 L457.66,332.60 L458.06,332.60 L458.47,332.60 L458.87,332.60 L459.28,332.60 L459.69,332.60 L460.09,332.60 L460.50,332.60 L460.90,332.60 L461.31,332.60 L461.72,332.60 L462.12,332.60 L462.53,332.60 L462.93,332.60 L463.34,332.60 L463.75,332.60 L464.15,332.60 L464.56,332.60" stroke="#00f" stroke-linecap="square"/>
<path d="M58.60,330.94 L59.62,330.86 L60.63,330.77 L61.65,330.68 L62.66,330.58 L63.68,330.49 L64.69,330.38 L65.70,330.28 L66.72,330.16 L67.73,330.05 L68.75,329.93 L69.77,329.80 L70.78,329.67 L71.80,329.53 L72.81,329.39 L73.83,329.24 L74.84,329.08 L75.85,328.92 L76.87,328.76 L77.88,328.58 L78.90,328.40 L79.92,328.21 L80.93,328.02 L81.95,327.82 L82.96,327.60 L83.97,327.39 L84.99,327.16 L86.00,326.92 L87.02,326.68 L88.03,326.43 L89.05,326.17 L90.07,325.89 L91.08,325.61 L92.09,325.32 L93.11,325.02 L94.12,324.71 L95.14,324.39 L96.16,324.05 L97.17,323.71 L98.18,323.35 L99.20,322.98 L100.22,322.60 L101.23,322.20 L102.25,321.80 L103.26,321.38 L104.28,320.94 L105.29,320.49 L106.30,320.03 L107.32,319.56 L108.34,319.07 L109.35,318.56 L110.37,318.04 L111.38,317.50 L112.40,316.95 L113.41,316.38 L114.43,315.80 L115.44,315.19 L116.45,314.57 L117.47,313.94 L118.49,313.28 L119.50,312.61 L120.52,311.92 L121.53,311.21 L122.55,310.48 L123.56,309.73 L124.58,308.96 L125.59,308.17 L126.60,307.36 L127.62,306.53 L128.64,305.69 L129.65,304.82 L130.67,303.92 L131.68,303.01 L132.70,302.08 L133.71,301.12 L134.72,300.14 L135.74,299.14 L136.75,298.12 L137.77,297.08 L138.78,296.01 L139.80,294.92 L140.81,293.80 L141.83,292.67 L142.84,291.51 L143.86,290.32 L144.88,289.12 L145.89,287.89 L146.91,286.63 L147.92,285.36 L148.94,284.05 L149.95,282.73 L150.97,281.38 L151.98,280.01 L153.00,278.61 L154.01,277.19 L155.03,275.75 L156.04,274.28 L157.06,272.79 L158.07,271.28 L159.09,269.75 L160.10,268.19 L161.12,266.61 L162.13,265.00 L163.15,263.38 L164.16,261.73 L165.18,260.06 L166.19,258.38 L167.21,256.67 L168.22,254.93 L169.24,253.18 L170.25,251.41 L171.27,249.62 L172.28,247.82 L173.30,245.99 L174.31,244.15 L175.32,242.28 L176.34,240.41 L177.36,238.51 L178.37,236.60 L179.38,234.68 L180.40,232.74 L181.42,230.79 L182.43,228.82 L183.44,226.84 L184.46,224.86 L185.47,222.86 L186.49,220.85 L187.50,218.83 L188.52,216.80 L189.53,214.77 L190.55,212.73 L191.56,210.69 L192.58,208.64 L193.59,206.58 L194.61,204.53 L195.62,202.47 L196.64,200.41 L197.66,198.35 L198.67,196.29 L199.69,194.24 L200.70,192.19 L201.72,190.14 L202.73,188.10 L203.75,186.06 L204.76,184.03 L205.77,182.01 L206.79,180.00 L207.81,178.00 L208.82,176.02 L209.83,174.04 L210.85,172.09 L211.87,170.14 L212.88,168.21 L213.90,166.31 L214.91,164.41 L215.93,162.54 L216.94,160.70 L217.96,158.87 L218.97,157.06 L219.99,155.29 L221.00,153.53 L222.02,151.81 L223.03,150.11 L224.05,148.44 L225.06,146.80 L226.07,145.19 L227.09,143.62 L228.10,142.07 L229.12,140.56 L230.14,139.09 L231.15,137.65 L232.17,136.25 L233.18,134.89 L234.19,133.57 L235.21,132.29 L236.22,131.05 L237.24,129.85 L238.25,128.69 L239.27,127.58 L240.29,126.51 L241.30,125.49 L242.31,124.51 L243.33,123.58 L244.34,122.69 L245.36,121.85 L246.38,121.07 L247.39,120.33 L248.40,119.64 L249.42,119.00 L250.44,118.40 L251.45,117.87 L252.47,117.38 L253.48,116.94 L254.50,116.56 L255.51,116.22 L256.52,115.94 L257.54,115.72 L258.56,115.54 L259.57,115.42 L260.59,115.35 L261.60,115.33 L262.62,115.37 L263.63,115.46 L264.65,115.60 L265.66,115.80 L266.68,116.05 L267.69,116.35 L268.71,116.70 L269.72,117.11 L270.74,117.57 L271.75,118.08 L272.77,118.63 L273.78,119.25 L274.80,119.91 L275.81,120.62 L276.82,121.38 L277.84,122.18 L278.86,123.04 L279.87,123.94 L280.89,124.89 L281.90,125.89 L282.92,126.93 L283.93,128.02 L284.94,129.15 L285.96,130.32 L286.98,131.54 L287.99,132.80 L289.01,134.10 L290.02,135.43 L291.04,136.81 L292.05,138.22 L293.06,139.68 L294.08,141.16 L295.10,142.69 L296.11,144.24 L297.12,145.83 L298.14,147.45 L299.16,149.10 L300.17,150.78 L301.19,152.49 L302.20,154.23 L303.22,155.99 L304.23,157.78 L305.25,159.60 L306.26,161.43 L307.28,163.29 L308.29,165.17 L309.31,167.07 L310.32,168.98 L311.34,170.92 L312.35,172.87 L313.37,174.83 L314.38,176.81 L315.40,178.80 L316.41,180.81 L317.43,182.82 L318.44,184.84 L319.46,186.87 L320.47,188.91 L321.49,190.96 L322.50,193.01 L323.52,195.06 L324.53,197.12 L325.55,199.17 L326.56,201.23 L327.57,203.29 L328.59,205.35 L329.61,207.40 L330.62,209.46 L331.64,211.51 L332.65,213.55 L333.67,215.59 L334.68,217.62 L335.69,219.64 L336.71,221.65 L337.73,223.66 L338.74,225.65 L339.76,227.64 L340.77,229.61 L341.79,231.57 L342.80,233.52 L343.82,235.45 L344.83,237.37 L345.85,239.27 L346.86,241.16 L347.88,243.03 L348.89,244.89 L349.91,246.72 L350.92,248.54 L351.94,250.34 L352.95,252.12 L353.97,253.89 L354.98,255.63 L356.00,257.35 L357.01,259.05 L358.03,260.73 L359.04,262.39 L360.06,264.03 L361.07,265.65 L362.09,267.24 L363.10,268.81 L364.12,270.36 L365.13,271.89 L366.15,273.39 L367.16,274.87 L368.18,276.33 L369.19,277.76 L370.21,279.17 L371.22,280.56 L372.24,281.92 L373.25,283.26 L374.27,284.58 L375.28,285.87 L376.30,287.14 L377.31,288.38 L378.32,289.60 L379.34,290.80 L380.36,291.97 L381.37,293.13 L382.39,294.25 L383.40,295.36 L384.42,296.44 L385.43,297.50 L386.45,298.53 L387.46,299.55 L388.48,300.54 L389.49,301.51 L390.51,302.45 L391.52,303.38 L392.54,304.28 L393.55,305.17 L394.57,306.03 L395.58,306.87 L396.60,307.69 L397.61,308.49 L398.63,309.27 L399.64,310.03 L400.66,310.77 L401.67,311.49 L402.69,312.19 L403.70,312.88 L404.72,313.54 L405.73,314.19 L406.75,314.82 L407.76,315.44 L408.78,316.03 L409.79,316.61 L410.81,317.17 L411.82,317.72 L412.83,318.25 L413.85,318.76 L414.87,319.26 L415.88,319.75 L416.90,320.22 L417.91,320.68 L418.93,321.12 L419.94,321.55 L420.96,321.96 L421.97,322.36 L422.99,322.75 L424.00,323.13 L425.02,323.49 L426.03,323.85 L427.05,324.19 L428.06,324.52 L429.07,324.83 L430.09,325.14 L431.11,325.44 L432.12,325.73 L433.13,326.00 L434.15,326.27 L435.17,326.53 L436.18,326.78 L437.20,327.02 L438.21,327.25 L439.23,327.47 L440.24,327.69 L441.26,327.90 L442.27,328.10 L443.29,328.29 L444.30,328.47 L445.32,328.65 L446.33,328.82 L447.35,328.99 L448.36,329.15 L449.38,329.30 L450.39,329.45 L451.41,329.59 L452.42,329.72 L453.44,329.85 L454.45,329.97 L455.47,330.09 L456.48,330.21 L457.50,330.32 L458.51,330.42 L459.53,330.53 L460.54,330.62 L461.56,330.71 L462.57,330.80 L463.59,330.89 L464.60,330.97" stroke="#f00" stroke-dasharray="7.4 3.2"/>
<path d="M58.60,332.23 L59.62,332.20 L60.63,332.18 L61.65,332.15 L62.66,332.12 L63.68,332.09 L64.69,332.06 L65.70,332.02 L66.72,331.98 L67.73,331.95 L68.75,331.90 L69.77,331.86 L70.78,331.82 L71.80,331.77 L72.81,331.72 L73.83,331.66 L74.84,331.61 L75.85,331.55 L76.87,331.48 L77.88,331.42 L78.90,331.35 L79.92,331.27 L80.93,331.19 L81.95,331.11 L82.96,331.03 L83.97,330.94 L84.99,330.84 L86.00,330.74 L87.02,330.64 L88.03,330.53 L89.05,330.41 L90.07,330.29 L91.08,330.16 L92.09,330.03 L93.11,329.89 L94.12,329.74 L95.14,329.59 L96.16,329.42 L97.17,329.26 L98.18,329.08 L99.20,328.89 L100.22,328.70 L101.23,328.50 L102.25,328.29 L103.26,328.07 L104.28,327.84 L105.29,327.60 L106.30,327.35 L107.32,327.09 L108.34,326.81 L109.35,326.53 L110.37,326.23 L111.38,325.93 L112.40,325.61 L113.41,325.27 L114.43,324.92 L115.44,324.56 L116.45,324.19 L117.47,323.80 L118.49,323.39 L119.50,322.97 L120.52,322.53 L121.53,322.08 L122.55,321.61 L123.56,321.12 L124.58,320.61 L125.59,320.09 L126.60,319.54 L127.62,318.98 L128.64,318.40 L129.65,317.80 L130.67,317.17 L131.68,316.53 L132.70,315.86 L133.71,315.18 L134.72,314.46 L135.74,313.73 L136.75,312.97 L137.77,312.19 L138.78,311.39 L139.80,310.56 L140.81,309.71 L141.83,308.83 L142.84,307.92 L143.86,306.99 L144.88,306.03 L145.89,305.04 L146.91,304.03 L147.92,302.99 L148.94,301.92 L149.95,300.82 L150.97,299.69 L151.98,298.53 L153.00,297.35 L154.01,296.13 L155.03,294.89 L156.04,293.61 L157.06,292.31 L158.07,290.97 L159.09,289.60 L160.10,288.21 L161.12,286.78 L162.13,285.32 L163.15,283.83 L164.16,282.31 L165.18,280.76 L166.19,279.17 L167.21,277.56 L168.22,275.92 L169.24,274.24 L170.25,272.54 L171.27,270.80 L172.28,269.04 L173.30,267.24 L174.31,265.42 L175.32,263.57 L176.34,261.69 L177.36,259.78 L178.37,257.84 L179.38,255.88 L180.40,253.89 L181.42,251.87 L182.43,249.83 L183.44,247.76 L184.46,245.67 L185.47,243.56 L186.49,241.43 L187.50,239.27 L188.52,237.09 L189.53,234.90 L190.55,232.68 L191.56,230.45 L192.58,228.20 L193.59,225.94 L194.61,223.66 L195.62,221.37 L196.64,219.06 L197.66,216.75 L198.67,214.42 L199.69,212.09 L200.70,209.75 L201.72,207.40 L202.73,205.06 L203.75,202.70 L204.76,200.35 L205.77,198.00 L206.79,195.65 L207.81,193.30 L208.82,190.96 L209.83,188.62 L210.85,186.29 L211.87,183.97 L212.88,181.67 L213.90,179.37 L214.91,177.09 L215.93,174.83 L216.94,172.59 L217.96,170.36 L218.97,168.16 L219.99,165.98 L221.00,163.82 L222.02,161.70 L223.03,159.60 L224.05,157.53 L225.06,155.49 L226.07,153.48 L227.09,151.51 L228.10,149.58 L229.12,147.69 L230.14,145.83 L231.15,144.02 L232.17,142.25 L233.18,140.52 L234.19,138.84 L235.21,137.21 L236.22,135.63 L237.24,134.10 L238.25,132.61 L239.27,131.19 L240.29,129.82 L241.30,128.50 L242.31,127.24 L243.33,126.04 L244.34,124.89 L245.36,123.81 L246.38,122.79 L247.39,121.83 L248.40,120.94 L249.42,120.10 L250.44,119.34 L251.45,118.63 L252.47,118.00 L253.48,117.43 L254.50,116.93 L255.51,116.50 L256.52,116.13 L257.54,115.83 L258.56,115.60 L259.57,115.45 L260.59,115.36 L261.60,115.33 L262.62,115.38 L263.63,115.50 L264.65,115.69 L265.66,115.94 L266.68,116.27 L267.69,116.66 L268.71,117.12 L269.72,117.65 L270.74,118.25 L271.75,118.91 L272.77,119.64 L273.78,120.43 L274.80,121.29 L275.81,122.21 L276.82,123.19 L277.84,124.24 L278.86,125.34 L279.87,126.51 L280.89,127.74 L281.90,129.02 L282.92,130.36 L283.93,131.75 L284.94,133.20 L285.96,134.70 L286.98,136.25 L287.99,137.86 L289.01,139.51 L290.02,141.21 L291.04,142.95 L292.05,144.74 L293.06,146.57 L294.08,148.44 L295.10,150.35 L296.11,152.30 L297.12,154.28 L298.14,156.30 L299.16,158.35 L300.17,160.43 L301.19,162.54 L302.20,164.68 L303.22,166.85 L304.23,169.04 L305.25,171.25 L306.26,173.48 L307.28,175.73 L308.29,178.00 L309.31,180.29 L310.32,182.59 L311.34,184.90 L312.35,187.22 L313.37,189.55 L314.38,191.89 L315.40,194.24 L316.41,196.59 L317.43,198.94 L318.44,201.29 L319.46,203.64 L320.47,206.00 L321.49,208.34 L322.50,210.69 L323.52,213.02 L324.53,215.35 L325.55,217.67 L326.56,219.98 L327.57,222.28 L328.59,224.57 L329.61,226.84 L330.62,229.10 L331.64,231.35 L332.65,233.57 L333.67,235.78 L334.68,237.97 L335.69,240.14 L336.71,242.28 L337.73,244.41 L338.74,246.51 L339.76,248.59 L340.77,250.65 L341.79,252.68 L342.80,254.69 L343.82,256.67 L344.83,258.62 L345.85,260.54 L346.86,262.44 L347.88,264.31 L348.89,266.15 L349.91,267.96 L350.92,269.75 L351.94,271.50 L352.95,273.22 L353.97,274.91 L354.98,276.58 L356.00,278.21 L357.01,279.81 L358.03,281.38 L359.04,282.92 L360.06,284.43 L361.07,285.91 L362.09,287.35 L363.10,288.77 L364.12,290.15 L365.13,291.51 L366.15,292.83 L367.16,294.13 L368.18,295.39 L369.19,296.62 L370.21,297.83 L371.22,299.00 L372.24,300.14 L373.25,301.26 L374.27,302.35 L375.28,303.41 L376.30,304.44 L377.31,305.44 L378.32,306.41 L379.34,307.36 L380.36,308.28 L381.37,309.18 L382.39,310.05 L383.40,310.89 L384.42,311.71 L385.43,312.51 L386.45,313.28 L387.46,314.03 L388.48,314.75 L389.49,315.45 L390.51,316.13 L391.52,316.79 L392.54,317.42 L393.55,318.04 L394.57,318.63 L395.58,319.21 L396.60,319.76 L397.61,320.30 L398.63,320.82 L399.64,321.32 L400.66,321.80 L401.67,322.26 L402.69,322.71 L403.70,323.14 L404.72,323.55 L405.73,323.95 L406.75,324.34 L407.76,324.71 L408.78,325.06 L409.79,325.41 L410.81,325.74 L411.82,326.05 L412.83,326.35 L413.85,326.65 L414.87,326.92 L415.88,327.19 L416.90,327.45 L417.91,327.70 L418.93,327.93 L419.94,328.16 L420.96,328.37 L421.97,328.58 L422.99,328.78 L424.00,328.97 L425.02,329.15 L426.03,329.32 L427.05,329.49 L428.06,329.65 L429.07,329.80 L430.09,329.94 L431.11,330.08 L432.12,330.21 L433.13,330.34 L434.15,330.46 L435.17,330.57 L436.18,330.68 L437.20,330.78 L438.21,330.88 L439.23,330.97 L440.24,331.06 L441.26,331.15 L442.27,331.23 L443.29,331.30 L444.30,331.37 L445.32,331.44 L446.33,331.51 L447.35,331.57 L448.36,331.63 L449.38,331.68 L450.39,331.74 L451.41,331.79 L452.42,331.83 L453.44,331.88 L454.45,331.92 L455.47,331.96 L456.48,332.00 L457.50,332.03 L458.51,332.07 L459.53,332.10 L460.54,332.13 L461.56,332.16 L462.57,332.19 L463.59,332.21 L464.60,332.24" stroke="#00f" stroke-dasharray="7.4 3.2"/>
</g>
<g clip-path="url(#c1)" fill="none" stroke-width="2" stroke-linejoin="round">
<path d="M545.56,332.60 L545.96,332.60 L546.37,332.60 L546.78,332.60 L547.18,332.60 L547.59,332.60 L547.99,332.60 L548.40,332.60 L548.81,332.60 L549.21,332.60 L549.62,332.60 L550.02,332.59 L550.43,332.59 L550.84,332.59 L551.24,332.59 L551.65,332.59 L552.05,332.60 L552.46,332.60 L552.87,332.60 L553.27,332.60 L553.68,332.60 L554.08,332.59 L554.49,332.59 L554.90,332.59 L555.30,332.59 L555.71,332.59 L556.11,332.59 L556.52,332.60 L556.93,332.60 L557.33,332.60 L557.74,332.60 L558.14,332.59 L558.55,332.58 L558.96,332.57 L559.36,332.57 L559.77,332.57 L560.17,332.57 L560.58,332.58 L560.99,332.59 L561.39,332.60 L561.80,332.60 L562.20,332.59 L562.61,332.57 L563.02,332.54 L563.42,332.52 L563.83,332.50 L564.23,332.49 L564.64,332.50 L565.05,332.53 L565.45,332.57 L565.86,332.60 L566.26,332.59 L566.67,332.53 L567.08,332.40 L567.48,332.18 L567.89,331.87 L568.29,331.48 L568.70,331.05 L569.11,330.60 L569.51,330.20 L569.92,329.88 L570.32,329.69 L570.73,329.65 L571.14,329.77 L571.54,330.03 L571.95,330.42 L572.35,330.87 L572.76,331.33 L573.17,331.76 L573.57,332.12 L573.98,332.37 L574.38,332.53 L574.79,332.59 L575.20,332.58 L575.60,332.53 L576.01,332.48 L576.41,332.43 L576.82,332.42 L577.23,332.42 L577.63,332.46 L578.04,332.50 L578.44,332.54 L578.85,332.56 L579.26,332.58 L579.66,332.58 L580.07,332.57 L580.47,332.55 L580.88,332.53 L581.29,332.52 L581.69,332.51 L582.10,332.51 L582.50,332.52 L582.91,332.53 L583.32,332.54 L583.72,332.56 L584.13,332.57 L584.53,332.58 L584.94,332.57 L585.35,332.55 L585.75,332.51 L586.16,332.47 L586.56,332.43 L586.97,332.41 L587.38,332.43 L587.78,332.47 L588.19,332.53 L588.59,332.59 L589.00,332.58 L589.41,332.48 L589.81,332.22 L590.22,331.80 L590.62,331.20 L591.03,330.49 L591.44,329.73 L591.84,329.03 L592.25,328.49 L592.65,328.20 L593.06,328.21 L593.47,328.52 L593.87,329.09 L594.28,329.82 L594.68,330.61 L595.09,331.34 L595.50,331.94 L595.90,332.34 L596.31,332.55 L596.71,332.59 L597.12,332.53 L597.53,332.43 L597.93,332.35 L598.34,332.31 L598.74,332.33 L599.15,332.39 L599.56,332.47 L599.96,332.54 L600.37,332.58 L600.77,332.58 L601.18,332.56 L601.59,332.52 L601.99,332.49 L602.40,332.47 L602.80,332.48 L603.21,332.50 L603.62,332.53 L604.02,332.56 L604.43,332.57 L604.83,332.57 L605.24,332.56 L605.65,332.54 L606.05,332.53 L606.46,332.52 L606.86,332.53 L607.27,332.54 L607.68,332.56 L608.08,332.57 L608.49,332.57 L608.89,332.56 L609.30,332.55 L609.71,332.54 L610.11,332.54 L610.52,332.55 L610.92,332.56 L611.33,332.57 L611.74,332.57 L612.14,332.57 L612.55,332.56 L612.95,332.55 L613.36,332.54 L613.77,332.53 L614.17,332.54 L614.58,332.55 L614.98,332.57 L615.39,332.58 L615.80,332.59 L616.20,332.58 L616.61,332.56 L617.01,332.54 L617.42,332.52 L617.83,332.52 L618.23,332.53 L618.64,332.55 L619.04,332.58 L619.45,332.59 L619.86,332.60 L620.26,332.58 L620.67,332.56 L621.07,332.53 L621.48,332.51 L621.89,332.51 L622.29,332.52 L622.70,332.54 L623.10,332.57 L623.51,332.59 L623.92,332.60 L624.32,332.59 L624.73,332.56 L625.13,332.53 L625.54,332.50 L625.95,332.49 L626.35,332.50 L626.76,332.52 L627.16,332.55 L627.57,332.58 L627.98,332.59 L628.38,332.59 L628.79,332.56 L629.19,332.53 L629.60,332.50 L630.01,332.48 L630.41,332.48 L630.82,332.50 L631.22,332.53 L631.63,332.55 L632.04,332.57 L632.44,332.57 L632.85,332.56 L633.25,332.53 L633.66,332.50 L634.07,332.48 L634.47,332.46 L634.88,332.47 L635.28,332.48 L635.69,332.50 L636.10,332.52 L636.50,332.53 L636.91,332.54 L637.31,332.53 L637.72,332.51 L638.13,332.48 L638.53,332.46 L638.94,332.44 L639.34,332.42 L639.75,332.42 L640.16,332.42 L640.56,332.44 L640.97,332.47 L641.37,332.50 L641.78,332.51 L642.19,332.50 L642.59,332.47 L643.00,332.41 L643.40,332.34 L643.81,332.27 L644.22,332.24 L644.62,332.25 L645.03,332.31 L645.43,332.39 L645.84,332.48 L646.25,332.53 L646.65,332.50 L647.06,332.40 L647.46,332.22 L647.87,332.02 L648.28,331.86 L648.68,331.80 L649.09,331.86 L649.49,332.05 L649.90,332.29 L650.31,332.50 L650.71,332.57 L651.12,332.42 L651.52,332.03 L651.93,331.48 L652.34,330.88 L652.74,330.43 L653.15,330.28 L653.55,330.52 L653.96,331.11 L654.37,331.88 L654.77,332.48 L655.18,332.51 L655.58,331.53 L655.99,329.20 L656.40,325.32 L656.80,319.95 L657.21,313.37 L657.61,306.09 L658.02,298.80 L658.43,292.23 L658.83,287.10 L659.24,284.03 L659.64,283.38 L660.05,285.29 L660.46,289.57 L660.86,295.79 L661.27,303.23 L661.67,311.07 L662.08,318.43 L662.49,324.52 L662.89,328.81 L663.30,331.09 L663.70,331.54 L664.11,330.66 L664.52,329.19 L664.92,327.90 L665.33,327.39 L665.73,327.87 L666.14,329.13 L666.55,330.44 L666.95,330.77 L667.36,329.01 L667.76,324.30 L668.17,316.29 L668.58,305.33 L668.98,292.52 L669.39,279.54 L669.79,268.31 L670.20,260.67 L670.61,257.89 L671.01,260.46 L671.42,267.95 L671.82,279.11 L672.23,292.15 L672.64,305.14 L673.04,316.37 L673.45,324.72 L673.85,329.80 L674.26,331.89 L674.67,331.80 L675.07,330.58 L675.48,329.21 L675.88,328.40 L676.29,328.42 L676.70,329.19 L677.10,330.35 L677.51,331.47 L677.91,332.20 L678.32,332.38 L678.73,332.07 L679.13,331.51 L679.54,330.97 L679.94,330.70 L680.35,330.79 L680.76,331.20 L681.16,331.76 L681.57,332.26 L681.97,332.53 L682.38,332.51 L682.79,332.23 L683.19,331.84 L683.60,331.51 L684.00,331.36 L684.41,331.46 L684.82,331.75 L685.22,332.12 L685.63,332.44 L686.03,332.59 L686.44,332.54 L686.85,332.32 L687.25,332.03 L687.66,331.79 L688.06,331.69 L688.47,331.77 L688.88,331.98 L689.28,332.24 L689.69,332.47 L690.09,332.57 L690.50,332.52 L690.91,332.36 L691.31,332.15 L691.72,331.98 L692.12,331.91 L692.53,331.96 L692.94,332.11 L693.34,332.29 L693.75,332.44 L694.15,332.50 L694.56,332.46 L694.97,332.35 L695.37,332.22 L695.78,332.12 L696.18,332.08 L696.59,332.12 L697.00,332.21 L697.40,332.32 L697.81,332.39 L698.21,332.41 L698.62,332.38 L699.03,332.31 L699.43,332.24 L699.84,332.20 L700.24,332.21 L700.65,332.26 L701.06,332.31 L701.46,332.35 L701.87,332.35 L702.27,332.32 L702.68,332.27 L703.09,332.23 L703.49,332.22 L703.90,332.25 L704.30,332.31 L704.71,332.38 L705.12,332.41 L705.52,332.39 L705.93,332.33 L706.33,332.23 L706.74,332.15 L707.15,332.12 L707.55,332.16 L707.96,332.25 L708.36,332.37 L708.77,332.47 L709.18,332.50 L709.58,332.44 L709.99,332.31 L710.39,332.16 L710.80,332.03 L711.21,332.00 L711.61,332.06 L712.02,332.21 L712.42,332.39 L712.83,332.53 L713.24,332.57 L713.64,332.49 L714.05,332.31 L714.45,332.10 L714.86,331.93 L715.27,331.87 L715.67,331.94 L716.08,332.13 L716.48,332.36 L716.89,332.54 L717.30,332.60 L717.70,332.51 L718.11,332.30 L718.51,332.04 L718.92,331.83 L719.33,331.74 L719.73,331.81 L720.14,332.01 L720.54,332.26 L720.95,332.47 L721.36,332.56 L721.76,332.48 L722.17,332.26 L722.57,331.98 L722.98,331.73 L723.39,331.62 L723.79,331.67 L724.20,331.85 L724.60,332.10 L725.01,332.31 L725.42,332.40 L725.82,332.33 L726.23,332.12 L726.63,331.86 L727.04,331.63 L727.45,331.51 L727.85,331.53 L728.26,331.68 L728.66,331.86 L729.07,332.00 L729.48,332.03 L729.88,331.95 L730.29,331.77 L730.69,331.58 L731.10,331.44 L731.51,331.39 L731.91,331.42 L732.32,331.48 L732.72,331.50 L733.13,331.42 L733.54,331.25 L733.94,331.04 L734.35,330.89 L734.75,330.87 L735.16,330.99 L735.57,331.19 L735.97,331.34 L736.38,331.27 L736.78,330.88 L737.19,330.20 L737.60,329.39 L738.00,328.72 L738.41,328.46 L738.81,328.77 L739.22,329.60 L739.63,330.59 L740.03,331.24 L740.44,330.98 L740.84,329.47 L741.25,326.76 L741.66,323.42 L742.06,320.43 L742.47,318.91 L742.87,319.69 L743.28,322.82 L743.69,327.26 L744.09,330.78 L744.50,330.23 L744.90,322.19 L745.31,303.75 L745.72,273.50 L746.12,232.12 L746.53,182.73 L746.93,130.58 L747.34,82.26 L747.75,44.51 L748.15,22.93 L748.56,20.82 L748.96,38.49 L749.37,73.24 L749.78,119.88 L750.18,171.80 L750.59,222.26 L750.99,265.66 L751.40,298.39 L751.81,319.25 L752.21,329.28 L752.62,331.12 L753.02,328.17 L753.43,323.70 L753.84,320.17 L754.24,318.87 L754.65,319.96 L755.05,322.73 L755.46,326.09 L755.87,328.99 L756.27,330.78 L756.68,331.28 L757.08,330.78 L757.49,329.81 L757.90,328.91 L758.30,328.48 L758.71,328.62 L759.11,329.23 L759.52,330.04 L759.93,330.76 L760.33,331.21 L760.74,331.34 L761.14,331.23 L761.55,331.03 L761.96,330.88 L762.36,330.88 L762.77,331.00 L763.17,331.21 L763.58,331.39 L763.99,331.49 L764.39,331.49 L764.80,331.44 L765.20,331.39 L765.61,331.42 L766.02,331.54 L766.42,331.73 L766.83,331.91 L767.23,332.03 L767.64,332.02 L768.05,331.90 L768.45,331.71 L768.86,331.56 L769.26,331.50 L769.67,331.59 L770.08,331.80 L770.48,332.07 L770.89,332.30 L771.29,332.40 L771.70,332.34 L772.11,332.15 L772.51,331.90 L772.92,331.70 L773.32,331.61 L773.73,331.70 L774.14,331.92 L774.54,332.20 L774.95,332.44 L775.35,332.56 L775.76,332.51 L776.17,332.31 L776.57,332.06 L776.98,331.84 L777.38,331.74 L777.79,331.80 L778.20,331.99 L778.60,332.25 L779.01,332.48 L779.41,332.59 L779.82,332.56 L780.23,332.40 L780.63,332.17 L781.04,331.97 L781.44,331.87 L781.85,331.90 L782.26,332.05 L782.66,332.27 L783.07,332.46 L783.47,332.56 L783.88,332.55 L784.29,332.43 L784.69,332.25 L785.10,332.09 L785.50,332.00 L785.91,332.02 L786.32,332.13 L786.72,332.28 L787.13,332.42 L787.53,332.49 L787.94,332.48 L788.35,332.40 L788.75,332.28 L789.16,332.17 L789.56,332.12 L789.97,332.14 L790.38,332.21 L790.78,332.31 L791.19,332.38 L791.59,332.41 L792.00,332.39 L792.41,332.33 L792.81,332.26 L793.22,332.22 L793.62,332.22 L794.03,332.26 L794.44,332.31 L794.84,332.35 L795.25,332.35 L795.65,332.32 L796.06,332.27 L796.47,332.22 L796.87,332.20 L797.28,332.23 L797.68,332.29 L798.09,332.36 L798.50,332.41 L798.90,332.40 L799.31,332.34 L799.71,332.24 L800.12,332.14 L800.53,332.08 L800.93,332.10 L801.34,332.19 L801.74,332.33 L802.15,332.45 L802.56,332.50 L802.96,332.46 L803.37,332.33 L803.77,332.15 L804.18,331.99 L804.59,331.91 L804.99,331.96 L805.40,332.11 L805.80,332.32 L806.21,332.50 L806.62,332.57 L807.02,332.50 L807.43,332.30 L807.83,332.03 L808.24,331.80 L808.65,331.69 L809.05,331.76 L809.46,331.98 L809.86,332.26 L810.27,332.51 L810.68,332.60 L811.08,332.49 L811.49,332.20 L811.89,331.82 L812.30,331.50 L812.71,331.36 L813.11,331.46 L813.52,331.76 L813.92,332.15 L814.33,332.47 L814.74,332.55 L815.14,332.34 L815.55,331.87 L815.95,331.31 L816.36,330.85 L816.77,330.69 L817.17,330.89 L817.58,331.39 L817.98,331.97 L818.39,332.35 L818.80,332.28 L819.20,331.66 L819.61,330.60 L820.01,329.41 L820.42,328.53 L820.83,328.33 L821.23,328.98 L821.64,330.28 L822.04,331.60 L822.45,332.01 L822.86,330.46 L823.26,326.06 L823.67,318.39 L824.07,307.69 L824.48,294.95 L824.89,281.76 L825.29,270.04 L825.70,261.66 L826.10,257.99 L826.51,259.65 L826.92,266.36 L827.32,276.97 L827.73,289.75 L828.13,302.75 L828.54,314.21 L828.95,322.89 L829.35,328.29 L829.76,330.61 L830.16,330.62 L830.57,329.43 L830.98,328.09 L831.38,327.41 L831.79,327.72 L832.19,328.88 L832.60,330.38 L833.01,331.45 L833.41,331.33 L833.82,329.46 L834.22,325.58 L834.63,319.83 L835.04,312.69 L835.44,304.88 L835.85,297.28 L836.25,290.74 L836.66,286.00 L837.07,283.57 L837.47,283.68 L837.88,286.27 L838.28,291.01 L838.69,297.33 L839.10,304.54 L839.50,311.88 L839.91,318.65 L840.31,324.31 L840.72,328.51 L841.13,331.17 L841.53,332.40 L841.94,332.55 L842.34,332.03 L842.75,331.27 L843.16,330.62 L843.56,330.29 L843.97,330.37 L844.37,330.77 L844.78,331.35 L845.19,331.93 L845.59,332.35 L846.00,332.55 L846.40,332.53 L846.81,332.34 L847.22,332.10 L847.62,331.89 L848.03,331.80 L848.43,331.84 L848.84,331.98 L849.25,332.18 L849.65,332.36 L850.06,332.49 L850.46,332.53 L850.87,332.50 L851.28,332.41 L851.68,332.32 L852.09,332.26 L852.49,332.24 L852.90,332.26 L853.31,332.32 L853.71,332.39 L854.12,332.46 L854.52,332.50 L854.93,332.51 L855.34,332.50 L855.74,332.48 L856.15,332.45 L856.55,332.43 L856.96,332.42 L857.37,332.42 L857.77,332.43 L858.18,332.45 L858.58,332.48 L858.99,332.50 L859.40,332.52 L859.80,332.54 L860.21,332.54 L860.61,332.53 L861.02,332.51 L861.43,332.49 L861.83,332.47 L862.24,332.46 L862.64,332.47 L863.05,332.50 L863.46,332.53 L863.86,332.55 L864.27,332.57 L864.67,332.57 L865.08,332.56 L865.49,332.53 L865.89,332.50 L866.30,332.48 L866.70,332.48 L867.11,332.49 L867.52,332.52 L867.92,332.56 L868.33,332.58 L868.73,332.59 L869.14,332.59 L869.55,332.56 L869.95,332.53 L870.36,332.50 L870.76,332.49 L871.17,332.50 L871.58,332.52 L871.98,332.55 L872.39,332.58 L872.79,332.60 L873.20,332.60 L873.61,332.58 L874.01,332.55 L874.42,332.52 L874.82,332.51 L875.23,332.51 L875.64,332.53 L876.04,332.55 L876.45,332.58 L876.85,332.59 L877.26,332.59 L877.67,332.58 L878.07,332.56 L878.48,332.53 L878.88,332.52 L879.29,332.52 L879.70,332.53 L880.10,332.55 L880.51,332.57 L880.91,332.58 L881.32,332.58 L881.73,332.57 L882.13,332.56 L882.54,332.54 L882.94,332.53 L883.35,332.54 L883.76,332.54 L884.16,332.56 L884.57,332.57 L884.97,332.57 L885.38,332.57 L885.79,332.56 L886.19,332.55 L886.60,332.54 L887.00,332.54 L887.41,332.55 L887.82,332.56 L888.22,332.57 L888.63,332.57 L889.03,332.56 L889.44,332.55 L889.85,332.53 L890.25,332.52 L890.66,332.52 L891.06,332.54 L891.47,332.55 L891.88,332.57 L892.28,332.57 L892.69,332.56 L893.09,332.54 L893.50,332.51 L893.91,332.48 L894.31,332.47 L894.72,332.48 L895.12,332.51 L895.53,332.55 L895.94,332.58 L896.34,332.58 L896.75,332.55 L897.15,332.48 L897.56,332.40 L897.97,332.34 L898.37,332.31 L898.78,332.33 L899.18,332.41 L899.59,332.51 L900.00,332.59 L900.40,332.57 L900.81,332.40 L901.21,332.04 L901.62,331.48 L902.03,330.77 L902.43,329.98 L902.84,329.23 L903.24,328.62 L903.65,328.25 L904.06,328.18 L904.46,328.41 L904.87,328.90 L905.27,329.58 L905.68,330.33 L906.09,331.06 L906.49,331.69 L906.90,332.15 L907.30,332.44 L907.71,332.57 L908.12,332.59 L908.52,332.55 L908.93,332.48 L909.33,332.43 L909.74,332.41 L910.15,332.43 L910.55,332.46 L910.96,332.50 L911.36,332.54 L911.77,332.57 L912.18,332.58 L912.58,332.58 L912.99,332.56 L913.39,332.55 L913.80,332.53 L914.21,332.52 L914.61,332.51 L915.02,332.51 L915.42,332.52 L915.83,332.53 L916.24,332.55 L916.64,332.56 L917.05,332.58 L917.45,332.58 L917.86,332.57 L918.27,332.54 L918.67,332.50 L919.08,332.46 L919.48,332.43 L919.89,332.42 L920.30,332.43 L920.70,332.47 L921.11,332.52 L921.51,332.57 L921.92,332.59 L922.33,332.55 L922.73,332.41 L923.14,332.18 L923.54,331.84 L923.95,331.43 L924.36,330.96 L924.76,330.51 L925.17,330.11 L925.57,329.81 L925.98,329.66 L926.39,329.66 L926.79,329.83 L927.20,330.12 L927.60,330.51 L928.01,330.95 L928.42,331.40 L928.82,331.80 L929.23,332.12 L929.63,332.36 L930.04,332.51 L930.45,332.59 L930.85,332.60 L931.26,332.58 L931.66,332.54 L932.07,332.51 L932.48,332.49 L932.88,332.49 L933.29,332.51 L933.69,332.54 L934.10,332.56 L934.51,332.59 L934.91,332.60 L935.32,332.60 L935.72,332.59 L936.13,332.58 L936.54,332.57 L936.94,332.57 L937.35,332.57 L937.75,332.57 L938.16,332.58 L938.57,332.59 L938.97,332.60 L939.38,332.60 L939.78,332.60 L940.19,332.60 L940.60,332.59 L941.00,332.59 L941.41,332.59 L941.81,332.59 L942.22,332.59 L942.63,332.59 L943.03,332.59 L943.44,332.60 L943.84,332.60 L944.25,332.60 L944.66,332.60 L945.06,332.60 L945.47,332.59 L945.87,332.59 L946.28,332.59 L946.69,332.59 L947.09,332.60 L947.50,332.60 L947.90,332.60 L948.31,332.60 L948.72,332.60 L949.12,332.60 L949.53,332.60 L949.93,332.60 L950.34,332.60 L950.75,332.60 L951.15,332.60 L951.56,332.60" stroke="#000" stroke-linecap="square"/>
</g>
<g stroke="#000" stroke-width="0.8" fill="none"><path d="M59.5,7.5 H465.5 V333.5 H59.5 Z"/><path d="M59.5,333.5 v4M109.5,333.5 v4M160.5,333.5 v4M211.5,333.5 v4M262.5,333.5 v4M312.5,333.5 v4M363.5,333.5 v4M414.5,333.5 v4M465.5,333.5 v4M59.5,333.5 h-3M59.5,289.5 h-3M59.5,246.5 h-3M59.5,202.5 h-3M59.5,159.5 h-3M59.5,115.5 h-3M59.5,72.5 h-3M59.5,28.5 h-3"/></g>
<g stroke="#000" stroke-width="0.8" fill="none"><path d="M546.5,7.5 H952.5 V333.5 H546.5 Z"/><path d="M546.5,333.5 v4M596.5,333.5 v4M647.5,333.5 v4M698.5,333.5 v4M749.5,333.5 v4M799.5,333.5 v4M850.5,333.5 v4M901.5,333.5 v4M952.5,333.5 v4M546.5,333.5 h-3M546.5,270.5 h-3M546.5,207.5 h-3M546.5,145.5 h-3M546.5,82.5 h-3M546.5,19.5 h-3"/></g>
<rect x="67.50" y="15.50" width="286.00" height="95.65" rx="3.2" ry="3.2" fill="#fff" fill-opacity="0.8" stroke="#ccc" stroke-opacity="0.8" stroke-width="1"/>
<path d="M73,27 h32" stroke="#f00" stroke-width="2" stroke-linecap="square" fill="none"/>
<path d="M73,50 h32" stroke="#00f" stroke-width="2" stroke-linecap="square" fill="none"/>
<path d="M73,73 h32" stroke="#f00" stroke-width="2" stroke-dasharray="7.4 3.2" fill="none"/>
<path d="M73,96 h32" stroke="#00f" stroke-width="2" stroke-dasharray="7.4 3.2" fill="none"/>
<rect x="758.50" y="15.50" width="186.00" height="67.65" rx="3.2" ry="3.2" fill="#fff" fill-opacity="0.8" stroke="#ccc" stroke-opacity="0.8" stroke-width="1"/>
<path d="M764,61 h32" stroke="#000" stroke-width="2" stroke-linecap="square" fill="none"/>
<text x="43.76" y="352.00" textLength="31.44" lengthAdjust="spacingAndGlyphs" font-size="17.00">−20</text>
<text x="93.88" y="352.00" textLength="31.34" lengthAdjust="spacingAndGlyphs" font-size="17.00">−15</text>
<text x="144.80" y="352.00" textLength="31.68" lengthAdjust="spacingAndGlyphs" font-size="17.00">−10</text>
<text x="200.80" y="352.00" textLength="21.08" lengthAdjust="spacingAndGlyphs" font-size="17.00">−5</text>
<text x="257.34" y="352.00" textLength="9.50" lengthAdjust="spacingAndGlyphs" font-size="17.00">0</text>
<text x="308.45" y="352.00" textLength="9.20" lengthAdjust="spacingAndGlyphs" font-size="17.00">5</text>
<text x="354.59" y="352.00" textLength="18.35" lengthAdjust="spacingAndGlyphs" font-size="17.00">10</text>
<text x="404.39" y="352.00" textLength="18.26" lengthAdjust="spacingAndGlyphs" font-size="17.00">15</text>
<text x="455.21" y="352.00" textLength="18.62" lengthAdjust="spacingAndGlyphs" font-size="17.00">20</text>
<text x="26.31" y="339.00" textLength="24.57" lengthAdjust="spacingAndGlyphs" font-size="17.00">0.0</text>
<text x="26.39" y="296.00" textLength="24.20" lengthAdjust="spacingAndGlyphs" font-size="17.00">0.2</text>
<text x="26.34" y="252.00" textLength="24.54" lengthAdjust="spacingAndGlyphs" font-size="17.00">0.4</text>
<text x="26.33" y="209.00" textLength="24.90" lengthAdjust="spacingAndGlyphs" font-size="17.00">0.6</text>
<text x="26.38" y="165.00" textLength="24.79" lengthAdjust="spacingAndGlyphs" font-size="17.00">0.8</text>
<text x="27.46" y="122.00" textLength="23.58" lengthAdjust="spacingAndGlyphs" font-size="17.00">1.0</text>
<text x="27.56" y="78.00" textLength="23.20" lengthAdjust="spacingAndGlyphs" font-size="17.00">1.2</text>
<text x="27.45" y="35.00" textLength="23.73" lengthAdjust="spacingAndGlyphs" font-size="17.00">1.4</text>
<text x="230.77" y="373.00" textLength="9.54" lengthAdjust="spacingAndGlyphs" font-style="italic" font-size="17.00">θ</text>
<text x="245.28" y="373.00" textLength="47.70" lengthAdjust="spacingAndGlyphs" font-size="17.00">[deg.]</text>
<text x="18.00" y="244.48" textLength="147.26" lengthAdjust="spacingAndGlyphs" transform="rotate(-90 18.00 244.48)" font-size="17.00">Synthesized beam</text>
<text x="117.66" y="34.00" textLength="228.68" lengthAdjust="spacingAndGlyphs" font-size="17.00">Th. Synth. Beam at 140 GHz</text>
<text x="117.66" y="57.00" textLength="228.68" lengthAdjust="spacingAndGlyphs" font-size="17.00">Th. Synth. Beam at 160 GHz</text>
<text x="117.70" y="80.00" textLength="218.64" lengthAdjust="spacingAndGlyphs" font-size="17.00">Th. Prim. Beam at 140 GHz</text>
<text x="117.70" y="103.00" textLength="218.64" lengthAdjust="spacingAndGlyphs" font-size="17.00">Th. Prim. Beam at 160 GHz</text>
<text x="530.76" y="352.00" textLength="31.44" lengthAdjust="spacingAndGlyphs" font-size="17.00">−20</text>
<text x="580.88" y="352.00" textLength="31.34" lengthAdjust="spacingAndGlyphs" font-size="17.00">−15</text>
<text x="631.80" y="352.00" textLength="31.68" lengthAdjust="spacingAndGlyphs" font-size="17.00">−10</text>
<text x="687.80" y="352.00" textLength="21.08" lengthAdjust="spacingAndGlyphs" font-size="17.00">−5</text>
<text x="744.34" y="352.00" textLength="9.50" lengthAdjust="spacingAndGlyphs" font-size="17.00">0</text>
<text x="795.45" y="352.00" textLength="9.20" lengthAdjust="spacingAndGlyphs" font-size="17.00">5</text>
<text x="841.59" y="352.00" textLength="18.35" lengthAdjust="spacingAndGlyphs" font-size="17.00">10</text>
<text x="891.39" y="352.00" textLength="18.26" lengthAdjust="spacingAndGlyphs" font-size="17.00">15</text>
<text x="942.21" y="352.00" textLength="18.62" lengthAdjust="spacingAndGlyphs" font-size="17.00">20</text>
<text x="513.31" y="339.00" textLength="24.57" lengthAdjust="spacingAndGlyphs" font-size="17.00">0.0</text>
<text x="513.38" y="277.00" textLength="24.47" lengthAdjust="spacingAndGlyphs" font-size="17.00">0.5</text>
<text x="514.46" y="214.00" textLength="23.58" lengthAdjust="spacingAndGlyphs" font-size="17.00">1.0</text>
<text x="514.52" y="151.00" textLength="23.45" lengthAdjust="spacingAndGlyphs" font-size="17.00">1.5</text>
<text x="513.16" y="88.00" textLength="23.71" lengthAdjust="spacingAndGlyphs" font-size="17.00">2.0</text>
<text x="513.23" y="26.00" textLength="23.61" lengthAdjust="spacingAndGlyphs" font-size="17.00">2.5</text>
<text x="717.77" y="373.00" textLength="9.54" lengthAdjust="spacingAndGlyphs" font-style="italic" font-size="17.00">θ</text>
<text x="732.28" y="373.00" textLength="47.70" lengthAdjust="spacingAndGlyphs" font-size="17.00">[deg.]</text>
<text x="505.00" y="189.41" textLength="34.96" lengthAdjust="spacingAndGlyphs" transform="rotate(-90 505.00 189.41)" font-size="17.00">TOD</text>
<text x="809.31" y="57.00" textLength="122.60" lengthAdjust="spacingAndGlyphs" font-size="17.00">1.0 at 140 GHZ</text>
<text x="814.64" y="74.00" textLength="120.10" lengthAdjust="spacingAndGlyphs" font-size="17.00">1.5 at 160 GHz</text>
<text x="774.85" y="34.00" textLength="150.46" lengthAdjust="spacingAndGlyphs" font-size="17.00">Source brightness:</text>
</svg>
</body></html>
